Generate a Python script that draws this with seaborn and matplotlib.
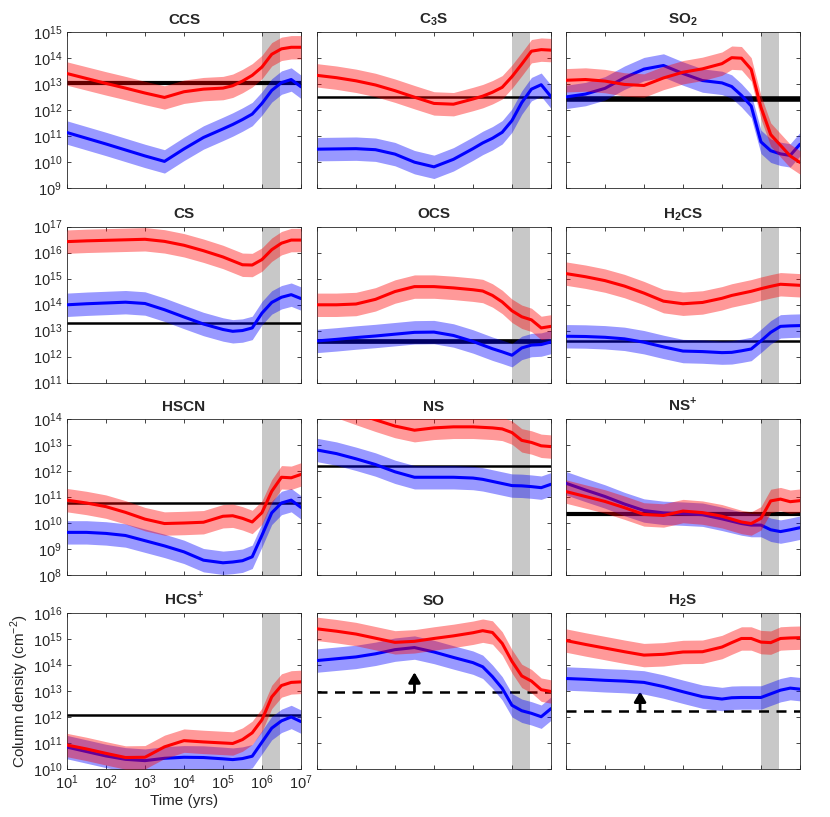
import matplotlib
matplotlib.use("Agg")
import matplotlib.pyplot as plt
import seaborn as sns
import numpy as np

# common time grid, log10(years)
log_time = [1, 1.5, 2, 2.5, 3, 3.5, 4, 4.5, 5, 5.25, 5.5, 5.75, 6, 6.25, 6.5, 6.75, 7]

# log10 column densities (red model / blue model)
ccs_red = [13.40, 13.21, 13.02, 12.84, 12.65, 12.48, 12.70, 12.80, 12.84, 12.93, 13.11, 13.33, 13.65, 14.14, 14.35, 14.41, 14.41]
ccs_blue = [11.13, 10.91, 10.69, 10.46, 10.23, 10.02, 10.50, 10.94, 11.27, 11.44, 11.63, 11.84, 12.25, 12.75, 13.05, 13.17, 12.89]
c3s_red = [13.33, 13.24, 13.12, 12.96, 12.74, 12.49, 12.25, 12.22, 12.42, 12.53, 12.68, 12.87, 13.28, 13.76, 14.26, 14.32, 14.30]
c3s_blue = [10.49, 10.50, 10.51, 10.47, 10.30, 9.99, 9.81, 10.10, 10.51, 10.73, 10.91, 11.14, 11.59, 12.28, 12.80, 12.97, 12.51]
so2_red = [13.14, 13.17, 13.11, 12.98, 12.94, 13.23, 13.45, 13.58, 13.78, 14.01, 13.99, 13.56, 12.10, 11.05, 10.64, 10.23, 9.98]
so2_blue = [12.50, 12.61, 12.83, 13.24, 13.57, 13.71, 13.40, 13.13, 13.04, 12.90, 12.56, 12.15, 10.77, 10.43, 10.31, 10.25, 10.68]
cs_red = [16.42, 16.45, 16.47, 16.49, 16.51, 16.43, 16.28, 16.07, 15.83, 15.68, 15.53, 15.52, 15.73, 16.11, 16.36, 16.48, 16.48]
cs_blue = [13.99, 14.03, 14.06, 14.09, 14.04, 13.80, 13.52, 13.25, 13.04, 12.97, 13.00, 13.10, 13.67, 14.08, 14.28, 14.38, 14.23]
ocs_red = [13.99, 13.99, 14.02, 14.20, 14.50, 14.69, 14.69, 14.64, 14.57, 14.52, 14.35, 14.10, 13.76, 13.53, 13.41, 13.10, 13.16]
ocs_blue = [12.60, 12.66, 12.73, 12.79, 12.86, 12.93, 12.94, 12.81, 12.58, 12.44, 12.30, 12.18, 12.05, 12.33, 12.44, 12.46, 12.56]
h2cs_red = [15.19, 15.07, 14.92, 14.71, 14.44, 14.13, 14.03, 14.08, 14.24, 14.35, 14.43, 14.51, 14.61, 14.70, 14.78, 14.76, 14.74]
h2cs_blue = [12.78, 12.77, 12.74, 12.68, 12.55, 12.37, 12.21, 12.19, 12.15, 12.16, 12.22, 12.29, 12.60, 12.93, 13.16, 13.18, 13.19]
hscn_red = [10.88, 10.77, 10.63, 10.41, 10.15, 9.98, 10.00, 10.03, 10.26, 10.28, 10.18, 10.04, 10.40, 11.22, 11.76, 11.74, 11.87]
hscn_blue = [9.64, 9.64, 9.60, 9.52, 9.32, 9.12, 8.89, 8.57, 8.47, 8.50, 8.55, 8.70, 9.53, 10.39, 10.77, 10.88, 10.60]
ns_red = [14.75, 14.50, 14.23, 13.97, 13.73, 13.57, 13.66, 13.70, 13.70, 13.68, 13.66, 13.62, 13.48, 13.18, 13.10, 12.97, 12.94]
ns_blue = [12.81, 12.67, 12.47, 12.25, 11.97, 11.76, 11.76, 11.76, 11.73, 11.68, 11.60, 11.52, 11.44, 11.43, 11.40, 11.36, 11.49]
nsp_red = [11.21, 11.02, 10.83, 10.59, 10.33, 10.29, 10.46, 10.40, 10.26, 10.15, 10.04, 9.98, 10.18, 10.85, 10.92, 10.82, 10.86]
nsp_blue = [11.53, 11.27, 11.02, 10.73, 10.48, 10.39, 10.36, 10.32, 10.16, 10.07, 9.98, 9.92, 9.92, 9.74, 9.67, 9.74, 9.82]
hcsp_red = [10.92, 10.77, 10.60, 10.44, 10.45, 10.85, 11.09, 11.04, 11.00, 10.98, 11.13, 11.39, 11.89, 12.77, 13.21, 13.33, 13.35]
hcsp_blue = [10.84, 10.67, 10.50, 10.37, 10.32, 10.41, 10.45, 10.44, 10.39, 10.36, 10.40, 10.49, 11.03, 11.57, 11.85, 12.00, 11.82]
so_red = [15.39, 15.30, 15.19, 15.03, 14.87, 14.91, 15.02, 15.12, 15.24, 15.32, 15.25, 14.83, 14.14, 13.58, 13.38, 13.05, 12.98]
so_blue = [14.17, 14.24, 14.31, 14.43, 14.59, 14.67, 14.50, 14.29, 14.09, 13.93, 13.55, 13.10, 12.45, 12.24, 12.14, 12.01, 12.32]
h2s_red = [14.94, 14.79, 14.65, 14.51, 14.38, 14.41, 14.50, 14.51, 14.69, 14.86, 15.02, 15.02, 14.88, 14.86, 15.02, 15.04, 15.05]
h2s_blue = [13.48, 13.45, 13.41, 13.38, 13.33, 13.17, 12.97, 12.78, 12.69, 12.74, 12.75, 12.75, 12.75, 12.89, 13.03, 13.11, 13.07]

titles = ["CCS", r"C$_\mathbf{3}$S", r"SO$_\mathbf{2}$",
          "CS", "OCS", r"H$_\mathbf{2}$CS",
          "HSCN", "NS", r"NS$^\mathbf{+}$",
          r"HCS$^\mathbf{+}$", "SO", r"H$_\mathbf{2}$S"]
red_models = [ccs_red, c3s_red, so2_red, cs_red, ocs_red, h2cs_red,
              hscn_red, ns_red, nsp_red, hcsp_red, so_red, h2s_red]
blue_models = [ccs_blue, c3s_blue, so2_blue, cs_blue, ocs_blue, h2cs_blue,
               hscn_blue, ns_blue, nsp_blue, hcsp_blue, so_blue, h2s_blue]

# observed log10 column densities, line widths (thick = range), lower limits
observed = [13.05, 12.5, 12.41, 13.3, 12.6, 12.59, 10.78, 12.18, 10.35, 12.08, 12.97, 12.23]
obs_width = [3.0, 1.8, 4.0, 1.8, 3.4, 1.8, 1.8, 1.8, 3.0, 1.8, 1.8, 1.8]
lower_limit = [False] * 10 + [True, True]
arrow_at = [None] * 10 + [10**3.5, 10**2.9]

row_ylim = [(9, 15), (11, 17), (8, 14), (10, 16)]
grey_span = (1e6, 2.9e6)
spread = 0.45

sns.set_style("ticks")
plt.rcParams["font.family"] = ["Liberation Sans", "DejaVu Sans"]
plt.rcParams["mathtext.fontset"] = "custom"
plt.rcParams["mathtext.rm"] = "Liberation Sans"
plt.rcParams["mathtext.bf"] = "Liberation Sans:bold"

fig = plt.figure(figsize=(8.3, 8.17), dpi=100)
lefts = [0.0807, 0.3819, 0.6819]
bottoms = [0.770, 0.5318, 0.2962, 0.0588]
w, h = 0.2819, 0.1909

t = 10.0 ** np.array(log_time)

for i in range(12):
    r, c = divmod(i, 3)
    ax = fig.add_axes([lefts[c], bottoms[r], w, h])
    ax.set_xscale("log")
    ax.set_yscale("log")
    ax.axvspan(*grey_span, color="#c8c8c8", lw=0, zorder=0)

    ls = (0, (4, 3)) if lower_limit[i] else "-"
    ax.axhline(10**observed[i], color="black", lw=obs_width[i], ls=ls, zorder=1)
    if arrow_at[i] is not None:
        ax.annotate("", xy=(arrow_at[i], 10**(observed[i] + 0.75)),
                    xytext=(arrow_at[i], 10**observed[i]),
                    arrowprops=dict(arrowstyle="-|>,head_width=0.35,head_length=0.6",
                                    color="black", lw=2, shrinkA=0, shrinkB=0), zorder=2)

    blue = np.array(blue_models[i])
    red = np.array(red_models[i])
    ax.fill_between(t, 10**(blue - spread), 10**(blue + spread), color="blue", alpha=0.4, lw=0, zorder=2)
    sns.lineplot(x=t, y=10**blue, color="blue", lw=2.2, ax=ax, zorder=3)
    ax.fill_between(t, 10**(red - spread), 10**(red + spread), color="red", alpha=0.4, lw=0, zorder=4)
    sns.lineplot(x=t, y=10**red, color="red", lw=2.2, ax=ax, zorder=5)

    lo, hi = row_ylim[r]
    ax.set_ylim(10**lo, 10**hi)
    ax.set_xlim(1e1, 1e7)
    ax.set_yticks([10.0**k for k in range(lo, hi + 1)])
    ax.set_xticks([10.0**k for k in range(1, 8)])
    ax.tick_params(which="both", direction="in", top=True, right=True,
                   colors="#262626", labelsize=10.5, width=0.6)
    ax.tick_params(which="major", length=3)
    ax.tick_params(which="minor", length=1.5)
    for s in ax.spines.values():
        s.set_color("#262626")
        s.set_linewidth(0.6)
    ax.set_title(titles[i], fontsize=11, fontweight="bold", pad=6)

    if c != 0:
        ax.set_yticklabels([])
    if not (r == 3 and c == 0):
        ax.set_xticklabels([])
    else:
        ax.set_xlabel("Time (yrs)", fontsize=11, labelpad=1)
        ax.set_ylabel("Column density (cm$^{-2}$)", fontsize=11, labelpad=1)
    ax.set_xlabel(ax.get_xlabel())

fig.savefig("out.png", dpi=100)
